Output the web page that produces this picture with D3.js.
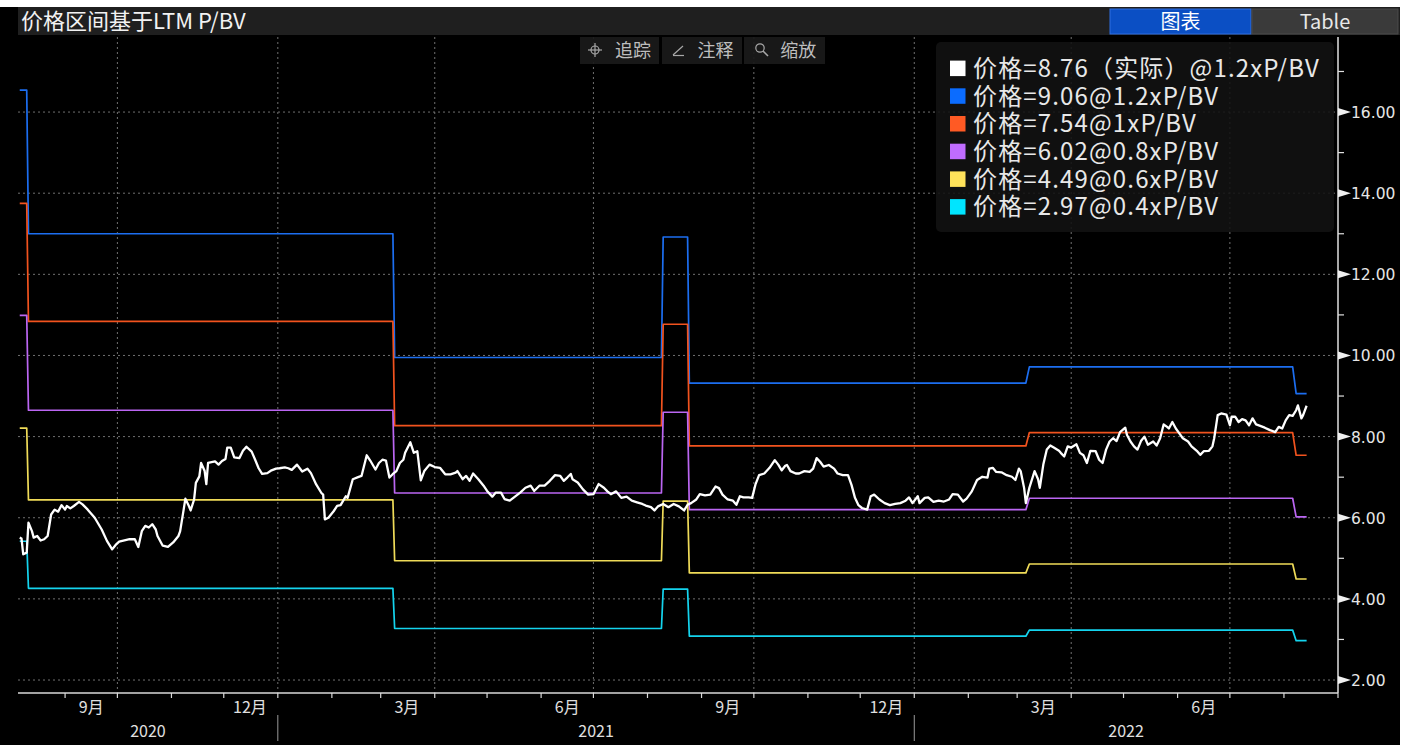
<!DOCTYPE html>
<html><head><meta charset="utf-8">
<script src="https://cdn.jsdelivr.net/npm/d3@7/dist/d3.min.js"></script>
<style>
html,body{margin:0;padding:0;background:#fff;overflow:hidden;}
svg{display:block;}
</style></head><body>
<svg id="chart" width="1410" height="745"></svg>
<script>
// ---------------- DATA ----------------
const chartTitle = "价格区间基于LTM P/BV";
const tabLabels = ["图表", "Table"];
const toolLabels = ["追踪", "注释", "缩放"];

// actual price (white line)
const priceData = [
["2020-08-06",5.51],["2020-08-07",5.49],["2020-08-08",5.10],["2020-08-10",5.14],["2020-08-11",5.88],["2020-08-13",5.67],["2020-08-14",5.51],["2020-08-16",5.55],["2020-08-18",5.44],["2020-08-20",5.47],["2020-08-22",5.55],["2020-08-24",6.08],["2020-08-26",6.20],["2020-08-28",6.15],["2020-08-30",6.31],
["2020-09-01",6.20],["2020-09-02",6.29],["2020-09-04",6.23],["2020-09-06",6.29],["2020-09-09",6.39],["2020-09-11",6.33],["2020-09-14",6.20],["2020-09-18",6.00],["2020-09-22",5.71],["2020-09-25",5.43],["2020-09-28",5.22],["2020-09-30",5.33],
["2020-10-02",5.41],["2020-10-05",5.44],["2020-10-08",5.47],["2020-10-11",5.47],["2020-10-13",5.28],["2020-10-15",5.67],["2020-10-17",5.80],["2020-10-19",5.76],["2020-10-21",5.84],["2020-10-23",5.71],["2020-10-24",5.55],["2020-10-27",5.31],["2020-10-30",5.28],
["2020-11-02",5.39],["2020-11-05",5.55],["2020-11-06",5.67],["2020-11-08",6.20],["2020-11-09",6.47],["2020-11-11",6.29],["2020-11-12",6.18],["2020-11-14",6.45],["2020-11-15",6.86],["2020-11-17",7.02],["2020-11-18",7.35],["2020-11-20",7.16],["2020-11-21",6.83],["2020-11-22",7.35],["2020-11-24",7.37],["2020-11-26",7.39],["2020-11-28",7.31],["2020-11-30",7.40],
["2020-12-02",7.45],["2020-12-03",7.73],["2020-12-05",7.73],["2020-12-07",7.49],["2020-12-10",7.47],["2020-12-12",7.65],["2020-12-14",7.75],["2020-12-17",7.63],["2020-12-19",7.43],["2020-12-21",7.22],["2020-12-23",7.08],["2020-12-26",7.10],["2020-12-28",7.16],["2020-12-31",7.21],
["2021-01-02",7.22],["2021-01-05",7.24],["2021-01-07",7.22],["2021-01-09",7.18],["2021-01-12",7.31],["2021-01-15",7.14],["2021-01-18",7.21],["2021-01-20",7.10],["2021-01-23",6.82],["2021-01-26",6.61],["2021-01-27",6.57],["2021-01-28",5.96],["2021-01-30",6.00],
["2021-02-02",6.16],["2021-02-04",6.29],["2021-02-06",6.31],["2021-02-09",6.53],["2021-02-10",6.49],["2021-02-13",6.95],["2021-02-16",7.00],["2021-02-18",7.03],["2021-02-21",7.54],["2021-02-23",7.41],["2021-02-26",7.19],["2021-02-28",7.35],
["2021-03-02",7.43],["2021-03-04",7.41],["2021-03-06",6.99],["2021-03-08",7.08],["2021-03-10",7.15],["2021-03-12",7.35],["2021-03-14",7.43],["2021-03-15",7.60],["2021-03-18",7.86],["2021-03-20",7.60],["2021-03-22",7.64],["2021-03-24",6.92],["2021-03-26",7.15],["2021-03-29",7.31],
["2021-04-01",7.25],["2021-04-04",7.23],["2021-04-07",7.07],["2021-04-10",7.07],["2021-04-13",7.11],["2021-04-14",7.15],["2021-04-17",6.95],["2021-04-19",7.03],["2021-04-21",6.91],["2021-04-23",7.09],["2021-04-26",6.95],["2021-04-29",6.79],
["2021-05-01",6.66],["2021-05-04",6.52],["2021-05-06",6.62],["2021-05-09",6.62],["2021-05-11",6.46],["2021-05-14",6.42],["2021-05-17",6.52],["2021-05-20",6.62],["2021-05-23",6.74],["2021-05-26",6.79],["2021-05-28",6.66],["2021-05-31",6.79],
["2021-06-03",6.79],["2021-06-06",6.91],["2021-06-09",7.05],["2021-06-12",7.03],["2021-06-14",6.91],["2021-06-16",6.99],["2021-06-18",7.08],["2021-06-19",6.95],["2021-06-22",6.87],["2021-06-25",6.70],["2021-06-28",6.57],
["2021-07-01",6.58],["2021-07-04",6.83],["2021-07-07",6.74],["2021-07-09",6.65],["2021-07-11",6.58],["2021-07-14",6.65],["2021-07-17",6.49],["2021-07-20",6.52],["2021-07-23",6.42],["2021-07-26",6.38],["2021-07-29",6.34],["2021-07-31",6.30],
["2021-08-03",6.26],["2021-08-05",6.18],["2021-08-07",6.28],["2021-08-10",6.34],["2021-08-13",6.26],["2021-08-16",6.34],["2021-08-19",6.28],["2021-08-22",6.18],["2021-08-24",6.32],["2021-08-26",6.36],["2021-08-29",6.45],["2021-08-31",6.58],
["2021-09-03",6.55],["2021-09-06",6.57],["2021-09-09",6.77],["2021-09-11",6.73],["2021-09-13",6.57],["2021-09-16",6.45],["2021-09-19",6.42],["2021-09-21",6.32],["2021-09-23",6.53],["2021-09-25",6.50],["2021-09-28",6.50],["2021-09-30",6.49],
["2021-10-02",6.83],["2021-10-04",7.05],["2021-10-07",7.09],["2021-10-10",7.23],["2021-10-13",7.42],["2021-10-15",7.31],["2021-10-17",7.17],["2021-10-19",7.28],["2021-10-20",7.30],["2021-10-22",7.15],["2021-10-25",7.09],["2021-10-27",7.09],["2021-10-30",7.15],
["2021-11-02",7.13],["2021-11-04",7.21],["2021-11-06",7.47],["2021-11-08",7.38],["2021-11-10",7.26],["2021-11-13",7.30],["2021-11-16",7.21],["2021-11-18",7.09],["2021-11-21",7.05],["2021-11-24",7.05],["2021-11-26",6.81],["2021-11-28",6.49],["2021-11-30",6.31],
["2021-12-02",6.24],["2021-12-05",6.20],["2021-12-07",6.53],["2021-12-09",6.57],["2021-12-12",6.45],["2021-12-15",6.36],["2021-12-18",6.31],["2021-12-21",6.34],["2021-12-24",6.36],["2021-12-27",6.42],["2021-12-29",6.50],["2021-12-31",6.36],
["2022-01-03",6.53],["2022-01-04",6.36],["2022-01-07",6.49],["2022-01-09",6.50],["2022-01-12",6.39],["2022-01-15",6.42],["2022-01-18",6.40],["2022-01-21",6.45],["2022-01-23",6.58],["2022-01-26",6.57],["2022-01-29",6.40],["2022-01-31",6.47],
["2022-02-03",6.65],["2022-02-06",6.93],["2022-02-09",7.01],["2022-02-12",6.99],["2022-02-13",7.21],["2022-02-15",7.23],["2022-02-17",7.13],["2022-02-20",7.12],["2022-02-23",7.05],["2022-02-26",7.01],["2022-02-28",6.93],
["2022-03-02",7.21],["2022-03-03",7.15],["2022-03-05",6.73],["2022-03-06",6.36],["2022-03-08",6.74],["2022-03-11",7.15],["2022-03-13",6.95],["2022-03-14",6.74],["2022-03-16",7.31],["2022-03-18",7.68],["2022-03-20",7.78],["2022-03-22",7.73],["2022-03-25",7.65],["2022-03-26",7.60],["2022-03-28",7.51],["2022-03-30",7.76],
["2022-04-01",7.73],["2022-04-04",7.81],["2022-04-06",7.60],["2022-04-08",7.54],["2022-04-10",7.35],["2022-04-12",7.65],["2022-04-15",7.64],["2022-04-17",7.43],["2022-04-19",7.35],["2022-04-21",7.68],["2022-04-23",7.88],["2022-04-25",7.96],["2022-04-27",7.89],["2022-04-29",8.11],
["2022-05-02",8.22],["2022-05-03",8.04],["2022-05-05",7.88],["2022-05-07",7.76],["2022-05-09",7.68],["2022-05-11",7.89],["2022-05-13",8.00],["2022-05-15",7.80],["2022-05-18",7.88],["2022-05-20",7.78],["2022-05-22",7.96],["2022-05-24",8.30],["2022-05-26",8.24],["2022-05-27",8.20],["2022-05-29",8.36],["2022-05-31",8.20],
["2022-06-02",8.08],["2022-06-04",7.96],["2022-06-07",7.88],["2022-06-09",7.76],["2022-06-12",7.65],["2022-06-14",7.55],["2022-06-16",7.64],["2022-06-19",7.65],["2022-06-21",7.76],["2022-06-22",7.96],["2022-06-24",8.53],["2022-06-26",8.57],["2022-06-29",8.54],
["2022-07-01",8.28],["2022-07-02",8.49],["2022-07-04",8.49],["2022-07-06",8.36],["2022-07-08",8.43],["2022-07-10",8.40],["2022-07-12",8.28],["2022-07-14",8.45],["2022-07-16",8.30],["2022-07-18",8.27],["2022-07-21",8.22],["2022-07-24",8.16],["2022-07-27",8.11],["2022-07-29",8.24],["2022-07-31",8.20],
["2022-08-02",8.40],["2022-08-04",8.53],["2022-08-06",8.51],["2022-08-08",8.65],["2022-08-09",8.77],["2022-08-11",8.45],["2022-08-12",8.53],["2022-08-14",8.76]
];

// P/BV band segments (start / end dates of each constant level)
const segStart = ["2020-08-06","2020-08-11","2021-03-09","2021-08-10","2021-08-25","2022-03-08","2022-08-08"];
const segEnd   = ["2020-08-10","2021-03-08","2021-08-09","2021-08-24","2022-03-06","2022-08-06","2022-08-14"];
const band12 = [16.54, 13.00, 9.95, 12.92, 9.32, 9.72, 9.06];
const band10 = [13.75, 10.84, 8.27, 10.77, 7.77, 8.10, 7.54];
const band08 = [10.99, 8.65, 6.61, 8.60, 6.20, 6.48, 6.02];
const band06 = [8.21, 6.44, 4.94, 6.41, 4.64, 4.86, 4.49];
const band04 = [5.42, 4.26, 3.27, 4.24, 3.08, 3.23, 2.97];

const legendLabels = [
  "价格=8.76（实际）@1.2xP/BV",
  "价格=9.06@1.2xP/BV",
  "价格=7.54@1xP/BV",
  "价格=6.02@0.8xP/BV",
  "价格=4.49@0.6xP/BV",
  "价格=2.97@0.4xP/BV"
];
const seriesColors = ["#ffffff","#0b6cff","#ff5a24","#c06cff","#ffe25a","#00e5ff"];
const lineColors   = ["#ffffff","#1c6ef0","#f2531e","#bb66f2","#efdb58","#14d4ee"];

const yTickValues = [2,4,6,8,10,12,14,16];
const yMinorValues = [3,5,7,9,11,13,15,17];
const labeledMonths = [8,11,2,5];   // 9月, 12月, 3月, 6月 (0-based month index)
const xDomain = ["2020-08-05","2022-09-01"];

// ---------------- DRAW ----------------
const parse = d3.timeParse("%Y-%m-%d");
const svg = d3.select("#chart");
const L = 18, R = 1338, T = 37, B = 693;
const x = d3.scaleTime().domain(xDomain.map(parse)).range([L, R]);
const y = d3.scaleLinear().domain([1.68, 17.85]).range([B, T]);
const cjk = "'Noto Sans CJK SC','Noto Sans',sans-serif";

// panel
svg.append("rect").attr("x",0).attr("y",7).attr("width",1400).attr("height",738).attr("fill","#000");
// title bar
svg.append("rect").attr("x",18).attr("y",7).attr("width",1382).attr("height",28).attr("fill","#1f1f1f");
svg.append("text").attr("x",21).attr("y",29).attr("fill","#f2f2f2")
  .style("font-family",cjk).style("font-size","22px").text(chartTitle);

// tabs
const tabs = [{x:1110,w:141,fill:"#0b4fc4",stroke:"#2f6fe0",tc:"#ffffff"},{x:1252,w:146,fill:"#3a3a3a",stroke:"#4a4a4a",tc:"#e8e8e8"}];
tabs.forEach((t,i)=>{
  svg.append("rect").attr("x",t.x).attr("y",9).attr("width",t.w).attr("height",25)
    .attr("fill",t.fill).attr("stroke",t.stroke).attr("stroke-width",1);
  svg.append("text").attr("x",t.x+t.w/2).attr("y",29).attr("text-anchor","middle")
    .attr("fill",t.tc).style("font-family",cjk).style("font-size","20px").text(tabLabels[i]);
});

// grid
const gridG = svg.append("g");
gridG.selectAll("line.h").data(yTickValues).join("line")
  .attr("x1",L).attr("x2",R).attr("y1",d=>y(d)).attr("y2",d=>y(d))
  .attr("stroke","#707070").attr("stroke-width",1).attr("stroke-dasharray","2,3");
const d0 = x.domain()[0], d1 = x.domain()[1];
const months = d3.timeMonth.range(d0, d3.timeDay.offset(d1,1));
const quarters = months.filter(d=>d.getMonth()%3===0);
gridG.selectAll("line.v").data(quarters).join("line")
  .attr("x1",d=>x(d)).attr("x2",d=>x(d)).attr("y1",T).attr("y2",B)
  .attr("stroke","#707070").attr("stroke-width",1).attr("stroke-dasharray","2,3");

// toolbar
const tools = [{x:580,w:79},{x:662,w:80},{x:744,w:81}];
const tb = svg.append("g");
tools.forEach((t,i)=>{
  tb.append("rect").attr("x",t.x).attr("y",37).attr("width",t.w).attr("height",27).attr("fill","#1a1a1a").attr("opacity",0.92);
  tb.append("text").attr("x",t.x+t.w*0.67).attr("y",57).attr("text-anchor","middle")
    .attr("fill","#bdbdbd").style("font-family",cjk).style("font-size","18px").text(toolLabels[i]);
});
// icons
const ic = tb.append("g").attr("stroke","#a8a8a8").attr("fill","none").attr("stroke-width",1.2);
ic.append("circle").attr("cx",595).attr("cy",50).attr("r",4);
ic.append("line").attr("x1",588).attr("x2",602).attr("y1",50).attr("y2",50);
ic.append("line").attr("x1",595).attr("x2",595).attr("y1",43).attr("y2",57);
ic.append("line").attr("x1",673).attr("x2",683).attr("y1",55).attr("y2",46);
ic.append("line").attr("x1",673).attr("x2",684).attr("y1",55.5).attr("y2",55.5);
ic.append("circle").attr("cx",760).attr("cy",48).attr("r",4.2);
ic.append("line").attr("x1",763).attr("x2",768).attr("y1",51).attr("y2",56).attr("stroke-width",1.6);

// bands
const bands = [band12, band10, band08, band06, band04];
const line = d3.line().x(d=>x(d[0])).y(d=>y(d[1]));
const plotG = svg.append("g");
bands.forEach((vals,k)=>{
  const pts = [];
  vals.forEach((v,i)=>{ pts.push([parse(segStart[i]),v]); pts.push([parse(segEnd[i]),v]); });
  plotG.append("path").datum(pts).attr("d",line).attr("fill","none")
    .attr("stroke",lineColors[k+1]).attr("stroke-width",1.7).attr("stroke-linejoin","round");
});
// price
plotG.append("path").datum(priceData.map(d=>[parse(d[0]),d[1]])).attr("d",line)
  .attr("fill","none").attr("stroke","#ffffff").attr("stroke-width",2.3).attr("stroke-linejoin","round");

// legend
const lg = svg.append("g");
lg.append("rect").attr("x",936).attr("y",42).attr("width",398).attr("height",190).attr("rx",5)
  .attr("fill","#121212").attr("opacity",0.88);
legendLabels.forEach((t,i)=>{
  const cy = 68.3 + i*27.7;
  lg.append("rect").attr("x",950).attr("y",cy-7.7).attr("width",15.5).attr("height",15.5).attr("fill",seriesColors[i]);
  lg.append("text").attr("x",973).attr("y",cy+8.5).attr("fill","#e8e8e8")
    .style("font-family",cjk).style("font-size","24px").style("letter-spacing","1.15px").text(t);
});

// y axis (right)
const ax = svg.append("g");
ax.append("line").attr("x1",R).attr("x2",R).attr("y1",T).attr("y2",B).attr("stroke","#e0e0e0").attr("stroke-width",1.5);
ax.selectAll("path.tri").data(yTickValues).join("path")
  .attr("d",d=>`M${R},${y(d)-4}L${R+13},${y(d)}L${R},${y(d)+4}Z`).attr("fill","#f0f0f0");
ax.selectAll("line.minor").data(yMinorValues.filter(v=>y(v)>T)).join("line")
  .attr("x1",R).attr("x2",R+6).attr("y1",d=>y(d)).attr("y2",d=>y(d)).attr("stroke","#e0e0e0").attr("stroke-width",1.2);
ax.selectAll("text.yl").data(yTickValues).join("text")
  .attr("x",R+13).attr("y",d=>y(d)+6).attr("fill","#e6e6e6")
  .style("font-family","'DejaVu Sans',sans-serif").style("font-size","15.5px").text(d3.format(".2f"));

// x axis
ax.append("line").attr("x1",L).attr("x2",R).attr("y1",B).attr("y2",B).attr("stroke","#d8d8d8").attr("stroke-width",1.5);
ax.selectAll("line.mt").data(months).join("line")
  .attr("x1",d=>x(d)).attr("x2",d=>x(d)).attr("y1",B).attr("y2",B+5).attr("stroke","#d8d8d8").attr("stroke-width",1.2);
const labelDates = months.filter(d=>labeledMonths.includes(d.getMonth()))
  .map(d=>d3.timeDay.offset(d,15)).filter(d=>d>d0 && d<d1);
ax.selectAll("text.ml").data(labelDates).join("text")
  .attr("x",d=>x(d)).attr("y",713).attr("text-anchor","middle").attr("fill","#e0e0e0")
  .style("font-family",cjk).style("font-size","16px").text(d=>(d.getMonth()+1)+"月");
const years = d3.range(d0.getFullYear(), d1.getFullYear()+1);
years.forEach(yr=>{
  const a = new Date(Math.max(+new Date(yr,0,1), +d0));
  const b = new Date(Math.min(+new Date(yr+1,0,1), +d1));
  ax.append("text").attr("x",(x(a)+x(b))/2).attr("y",737).attr("text-anchor","middle").attr("fill","#e0e0e0")
    .style("font-family",cjk).style("font-size","16px").text(yr);
  const jan = new Date(yr,0,1);
  if (jan > d0 && jan < d1) {
    ax.append("line").attr("x1",x(jan)).attr("x2",x(jan)).attr("y1",715).attr("y2",741).attr("stroke","#9a9a9a").attr("stroke-width",1);
  }
});
</script>
</body></html>
